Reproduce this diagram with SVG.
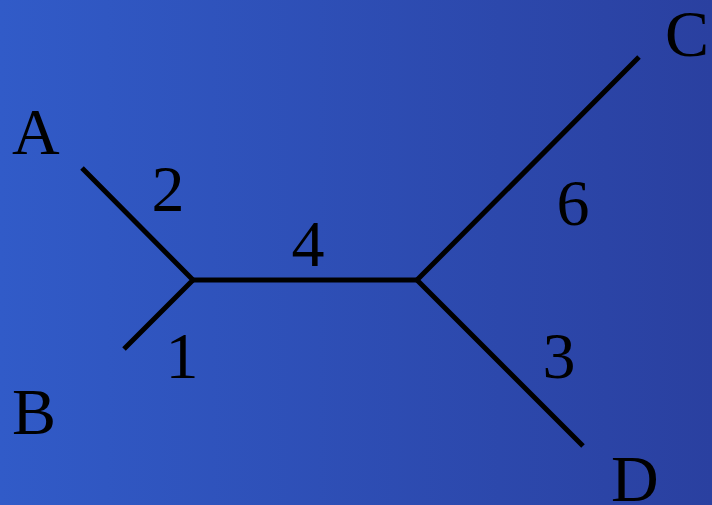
<svg xmlns="http://www.w3.org/2000/svg" width="712" height="505" viewBox="0 0 712 505">
  <defs>
    <linearGradient id="bg" x1="0" y1="0" x2="1" y2="0">
      <stop offset="0" stop-color="#315bc8"/>
      <stop offset="1" stop-color="#2a40a0"/>
    </linearGradient>
    <style>
      .edge { stroke: #000; stroke-width: 5; fill: none; stroke-linecap: butt; stroke-linejoin: miter; }
      .lbl { font-family: "Liberation Serif", "Times New Roman", serif; font-size: 66px; fill: #000; }
      .num { font-family: "Liberation Serif", "Times New Roman", serif; font-size: 66px; fill: #000; text-anchor: middle; }
    </style>
  </defs>
  <rect x="0" y="0" width="712" height="505" fill="url(#bg)"/>
  <g id="connectors">
    <polyline class="edge" points="82,168 193,280 124,349"/>
    <line class="edge" x1="193" y1="280" x2="417" y2="280"/>
    <polyline class="edge" points="639,57 417,280 583,446"/>
    <text class="num" x="168" y="211">2</text>
    <text class="num" x="182" y="378">1</text>
    <text class="num" x="308" y="266">4</text>
    <text class="num" x="573" y="225">6</text>
    <text class="num" x="559" y="378">3</text>
  </g>
  <g id="node-A"><text class="lbl" x="12" y="154">A</text></g>
  <g id="node-B"><text class="lbl" x="12" y="434">B</text></g>
  <g id="node-C"><text class="lbl" x="665" y="56">C</text></g>
  <g id="node-D"><text class="lbl" x="611" y="501">D</text></g>
</svg>
